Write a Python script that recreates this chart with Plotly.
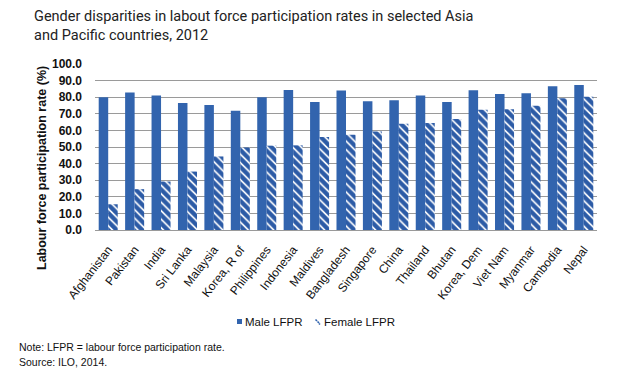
import plotly.graph_objects as go

countries = ["Afghanistan", "Pakistan", "India", "Sri Lanka", "Malaysia", "Korea, R of",
             "Philippines", "Indonesia", "Maldives", "Bangladesh", "Singapore", "China",
             "Thailand", "Bhutan", "Korea, Dem", "Viet Nam", "Myanmar", "Cambodia", "Nepal"]
male_lfpr = [79.9, 82.9, 81.0, 76.5, 75.3, 71.9, 80.0, 84.4, 77.1, 84.0, 77.5, 78.1,
             81.0, 77.1, 84.2, 82.0, 82.4, 86.6, 87.4]
female_lfpr = [15.5, 24.6, 29.2, 35.2, 44.3, 49.7, 50.8, 51.0, 56.0, 57.4, 59.4, 64.0,
               64.5, 66.9, 72.5, 72.8, 74.9, 79.3, 80.2]
y_ticks = [0, 10, 20, 30, 40, 50, 60, 70, 80, 90, 100]

BLUE = "#3264AE"
W, H = 640, 380
L, R, T, B = 95, 43, 64, 150
PW, PH = W - L - R, H - T - B


def px(x):
    return (x - L) / PW


def py(y):
    return (H - B - y) / PH


fig = go.Figure()
fig.add_trace(go.Bar(
    x=countries, y=male_lfpr, name="Male LFPR", showlegend=False,
    marker=dict(color=BLUE, line=dict(width=0)),
))
fig.add_trace(go.Bar(
    x=countries, y=female_lfpr, name="Female LFPR", showlegend=False,
    marker=dict(color="white", line=dict(width=0),
                pattern=dict(shape="\\", fgcolor="#2c5ba6", bgcolor="white",
                             fgopacity=1, size=6, solidity=0.72)),
))

fig.update_layout(
    width=W, height=H,
    margin=dict(l=L, r=R, t=T, b=B),
    paper_bgcolor="white", plot_bgcolor="white",
    barmode="group", bargap=0.28, bargroupgap=0.0,
    font=dict(family="Liberation Sans, Arial, sans-serif", color="#111"),
    showlegend=False,
)

fig.update_yaxes(
    range=[0, 100], tickvals=y_ticks,
    ticktext=[f"<b>{v:.1f}</b>" for v in y_ticks],
    tickfont=dict(size=12, color="#111", family="Liberation Sans, Arial, sans-serif"),
    showgrid=True, gridcolor="#9a9a9a", gridwidth=1,
    zeroline=False, showline=False, ticks="", ticklabelstandoff=12,
)
fig.update_xaxes(
    tickangle=-52, tickfont=dict(size=12, color="#111"),
    showline=True, linecolor="#9a9a9a", linewidth=1, ticks="",
    showgrid=False, ticklabelstandoff=7,
)

# title
fig.add_annotation(text="Gender disparities in labout force participation rates in selected Asia<br>and Pacific countries, 2012",
                   xref="paper", yref="paper", x=px(32), y=py(26),
                   xanchor="left", yanchor="middle", align="left", showarrow=False,
                   font=dict(family="Roboto, sans-serif", size=14.5, color="#222"))

# y-axis title
fig.add_annotation(text="<b>Labour force participation rate (%)</b>",
                   xref="paper", yref="paper", x=px(42), y=py(168),
                   xanchor="center", yanchor="middle", textangle=-90, showarrow=False,
                   font=dict(size=12.5, color="#111"))

# legend (custom, compact like the reference)
fig.add_shape(type="rect", xref="paper", yref="paper",
              x0=px(237), x1=px(242), y0=py(319), y1=py(324),
              fillcolor=BLUE, line=dict(width=0))
fig.add_annotation(text="Male LFPR", xref="paper", yref="paper",
                   x=px(243), y=py(321.5), xanchor="left", yanchor="middle",
                   showarrow=False, font=dict(size=11.5, color="#111"))
for (x0, y0, x1, y1) in [(315.5, 319.5, 317, 321), (317.5, 321.5, 319, 323), (319, 323.5, 320, 324.5)]:
    fig.add_shape(type="line", xref="paper", yref="paper",
                  x0=px(x0), y0=py(y0), x1=px(x1), y1=py(y1),
                  line=dict(color=BLUE, width=1.6))
fig.add_annotation(text="Female LFPR", xref="paper", yref="paper",
                   x=px(322), y=py(321.5), xanchor="left", yanchor="middle",
                   showarrow=False, font=dict(size=11.5, color="#111"))

fig.add_annotation(text="Note: LFPR = labour force participation rate.",
                   xref="paper", yref="paper", x=px(17), y=py(347),
                   xanchor="left", yanchor="middle", showarrow=False,
                   font=dict(size=10.5, color="#111"))
fig.add_annotation(text="Source: ILO, 2014.",
                   xref="paper", yref="paper", x=px(17), y=py(362),
                   xanchor="left", yanchor="middle", showarrow=False,
                   font=dict(size=10.5, color="#111"))

fig.write_html("out.html", config={"displayModeBar": False},
               post_script="document.body.style.margin='0';document.body.style.padding='0';")
